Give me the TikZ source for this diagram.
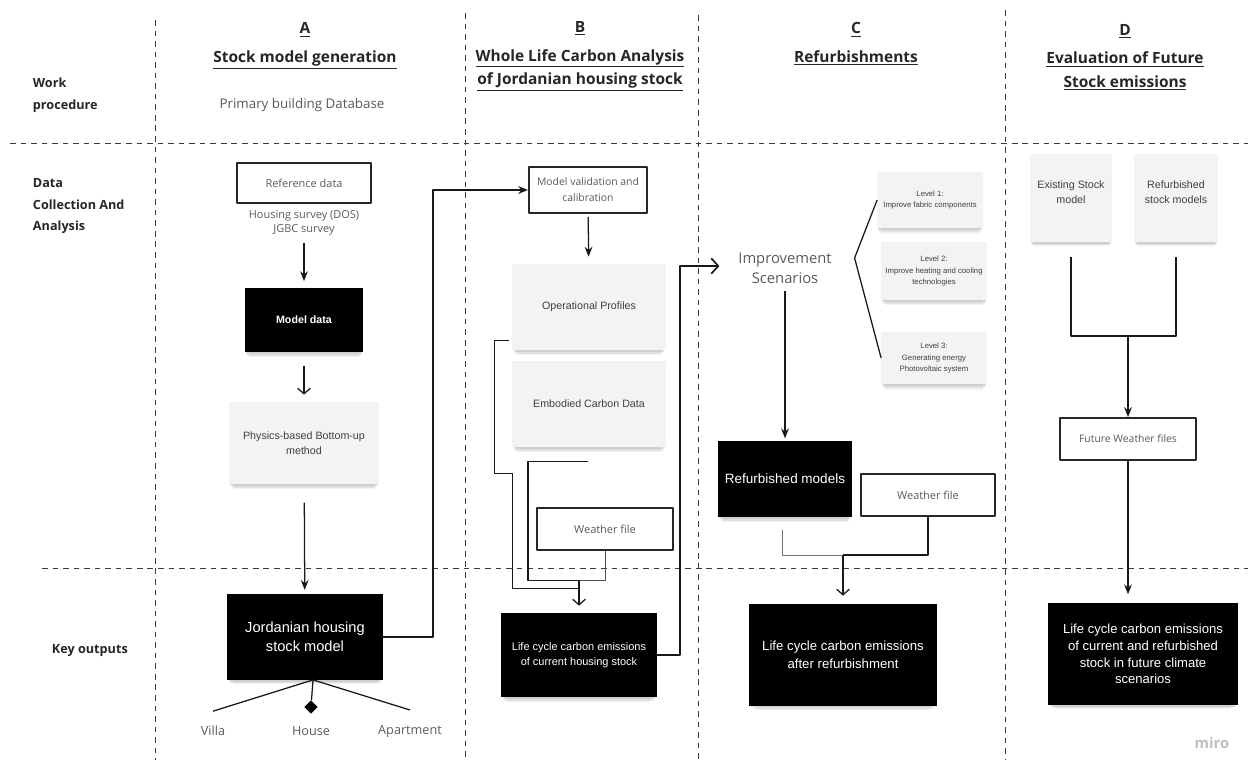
\documentclass[tikz,border=0pt]{standalone}
\usepackage{fontspec}
\setmainfont{Open Sans}
\newfontfamily\arialfont{Liberation Sans}
\usetikzlibrary{arrows.meta,shadows,shapes.geometric,calc,positioning}
\definecolor{stickyfill}{HTML}{F3F3F3}
\definecolor{inktext}{HTML}{5A5A5A}
\definecolor{gridline}{HTML}{3A3A3A}
\newcommand\fsz[2]{\fontsize{#1}{#2}\selectfont}

\begin{document}
\begin{tikzpicture}[x=0.025cm,y=-0.025cm,line join=round,
  gridl/.style={gridline,line width=0.7pt,dash pattern=on 4pt off 3.5pt},
  head/.style={font=\fsz{11}{16.5}\bfseries,text=black!85,align=center},
  rowlab/.style={font=\fsz{9}{15.5}\bfseries,text=black!85,align=left,anchor=west},
  plain/.style={font=\fsz{9.5}{13},text=inktext,align=center},
  softshadow/.style={
    drop shadow={shadow xshift=0pt,shadow yshift=-2pt,shadow scale=0.98,opacity=0.2},
    drop shadow={shadow xshift=0pt,shadow yshift=-4pt,shadow scale=0.96,opacity=0.15},
    drop shadow={shadow xshift=0pt,shadow yshift=-6pt,shadow scale=0.93,opacity=0.1}},
  whitebox/.style={draw=black!85,line width=1.4pt,fill=white,text=inktext,
    font=\fsz{7.8}{11.5},align=center,inner sep=1pt},
  blackbox/.style={fill=black,text=white,font=\arialfont,align=center,inner sep=1pt,softshadow},
  sticky/.style={fill=stickyfill,text=black!75,font=\arialfont\fsz{7.6}{10.5},align=center,inner sep=1pt,softshadow},
  link/.style={line width=0.9pt,black!90},
  fillarrow/.style={link,-{Stealth[length=7pt,width=5.5pt]}},
  openarrow/.style={link,-{Straight Barb[length=4pt,width=9pt]}}]
\useasboundingbox (0,0) rectangle (1248,764);

% grid of the work plan
\foreach \x/\top in {155/20,465/13,698/15,1005/10}{\draw[gridl] (\x,\top) -- (\x,760);}
\draw[gridl] (10,143) -- (1248,143);
\draw[gridl] (42,568) -- (1248,568);

% row labels
\node[rowlab] (rowwork) at (28,95) {Work\\procedure};
\node[rowlab] (rowdata) at (28,206) {Data\\Collection And\\Analysis};
\node[rowlab] (rowkey) at (47,650) {Key outputs};

% column heads
\node[head] (headA) at (305,46) {\underline{A}\\[4pt]\underline{Stock model generation}};
\node[head] (headB) at (580,56) {\underline{B}\\[4pt]\underline{Whole Life Carbon Analysis}\\\underline{of Jordanian housing stock}};
\node[head] (headC) at (856,44) {\underline{C}\\[4pt]\underline{Refurbishments}};
\node[head] (headD) at (1125,57) {\underline{D}\\[4pt]\underline{Evaluation of Future}\\\underline{Stock emissions}};
\node[plain] (primdb) at (302,105) {Primary building Database};

% column A
\node[whitebox,minimum width=3.35cm,minimum height=0.98cm] (refdata) at (304,183) {Reference data};
\node[plain,font=\fsz{7.8}{10.5},below=1pt of refdata] (survey) {Housing survey (DOS)\\JGBC survey};
\node[blackbox,font=\arialfont\fsz{7.6}{10}\bfseries,minimum width=2.95cm,minimum height=1.58cm] (mdata) at (304,320) {Model data};
\node[sticky,minimum width=3.75cm,minimum height=2.05cm] (physics) at (304,443) {Physics-based Bottom-up\\method};
\node[blackbox,font=\arialfont\fsz{10.4}{13.5},minimum width=3.88cm,minimum height=2.13cm] (jord) at (305,637) {Jordanian housing\\stock model};
\node[plain,font=\fsz{9}{12}] (villa) at (213,731) {Villa};
\node[plain,font=\fsz{9}{12}] (house) at (311,731) {House};
\node[plain,font=\fsz{9}{12}] (apart) at (410,731) {Apartment};
\node[diamond,fill=black,inner sep=0pt,minimum size=0.34cm] (hdiam) at (311,707) {};
\coordinate (fan) at ($(jord.south)+(8,0)$);

\draw[fillarrow,shorten <=2pt,shorten >=5pt] (survey) -- (mdata);
\draw[openarrow,shorten <=10pt,shorten >=5pt] (mdata) -- (physics);
\draw[fillarrow,shorten <=13pt,shorten >=3pt] (physics) -- (jord);
\draw[link] (fan) -- ($(villa.north)+(0,-10)$);
\draw[link] (fan) -- ($(apart.north)+(0,-10)$);
\draw[link] (fan) -- (hdiam);

% column B
\node[whitebox,font=\fsz{7.4}{11.5},minimum width=2.95cm,minimum height=1.15cm] (valid) at (588,190) {Model validation and\\calibration};
\node[sticky,minimum width=3.85cm,minimum height=2.15cm] (oper) at (589,307) {Operational Profiles};
\node[sticky,minimum width=3.85cm,minimum height=2.15cm] (embod) at (589,404) {Embodied Carbon Data};
\node[whitebox,minimum width=3.38cm,minimum height=1.03cm] (weaB) at (605,529) {Weather file};
\node[blackbox,font=\arialfont\fsz{7.8}{10.5},minimum width=3.88cm,minimum height=2.1cm] (lifeB) at (579,655) {Life cycle carbon emissions\\of current housing stock};
\coordinate (mB) at ($(lifeB.north)+(0,-24)$);
\coordinate (mB2) at ($(lifeB.north)+(0,-32)$);

\draw[fillarrow] (jord.east) -- ++(50,0) |- (valid.west);
\draw[fillarrow,shorten <=2pt,shorten >=5pt] (valid) -- (oper);
\draw[link] ($(oper.south west)+(-3,-10)$) -- ++(-14,0) -- ++(0,133) -- ++(18,0) |- (mB);
\draw[link] ($(embod.south)+(-1,14)$) -- ++(-60,0) |- (mB2);
\draw[link,black!70,line width=0.7pt] (weaB.south) |- (mB2);
\draw[openarrow,shorten >=5pt] (mB2) -- (lifeB.north);

% column C
\node[plain,font=\fsz{10.5}{14.5}] (impr) at (785,268) {Improvement\\Scenarios};
\node[sticky,font=\arialfont\fsz{5.5}{8},minimum width=2.63cm,minimum height=1.38cm] (lev1) at (930,200) {Level 1:\\Improve fabric components};
\node[sticky,font=\arialfont\fsz{5.5}{8},minimum width=2.63cm,minimum height=1.43cm] (lev2) at (934,271) {Level 2:\\Improve heating and cooling\\technologies};
\node[sticky,font=\arialfont\fsz{5.5}{8},minimum width=2.63cm,minimum height=1.3cm] (lev3) at (934,358) {Level 3:\\Generating energy\\Photovoltaic system};
\node[blackbox,font=\arialfont\fsz{9.6}{12},minimum width=3.35cm,minimum height=1.88cm] (refm) at (785,479) {Refurbished models};
\node[whitebox,minimum width=3.35cm,minimum height=1.03cm] (weaC) at (928,495) {Weather file};
\node[blackbox,font=\arialfont\fsz{9.4}{12.5},minimum width=4.68cm,minimum height=2.53cm] (lifeC) at (843,655) {Life cycle carbon emissions\\after refurbishment};
\coordinate (mC) at ($(lifeC.north)+(0,-49)$);

\draw[openarrow,line width=1.2pt,-{Straight Barb[length=5pt,width=11pt]}] (lifeB.east) -- ++(23,0) |- ($(impr.west)+(-14,-2)$);
\draw[link] (lev1.west) -- ($(impr.east)+(18,-10)$) -- (lev3.west);
\draw[fillarrow,shorten <=2pt,shorten >=2pt] (impr) -- (refm);
\draw[link,black!55,line width=0.7pt] ($(refm.south)+(-3,13)$) |- (mC);
\draw[link] (weaC.south) |- (mC);
\draw[openarrow,shorten >=6pt] (mC) -- (lifeC.north);

% column D
\node[sticky,minimum width=2.05cm,minimum height=2.18cm,text depth=0.3cm] (exist) at (1071,198) {Existing Stock\\model};
\node[sticky,minimum width=2.1cm,minimum height=2.18cm,text depth=0.3cm] (refs) at (1176,198) {Refurbished\\stock models};
\node[whitebox,font=\fsz{7.4}{10},minimum width=3.38cm,minimum height=1.05cm] (futw) at (1128,439) {Future Weather files};
\node[blackbox,font=\arialfont\fsz{9.3}{12},minimum width=4.75cm,minimum height=2.55cm] (lifeD) at (1143,654) {Life cycle carbon emissions\\of current and refurbished\\stock in future climate\\scenarios};
\coordinate (mD) at ($(futw.north)+(0,-81)$);

\draw[link] ($(exist.south)+(0,15)$) |- (mD) -| ($(refs.south)+(0,15)$);
\draw[fillarrow] (mD) -- (futw.north);
\draw[fillarrow,shorten >=6pt] (futw.south) -- (futw.south |- lifeD.north);

\node[font=\fsz{10.5}{12}\bfseries,text=black!25] (miro) at (1212,743) {miro};
\end{tikzpicture}
\end{document}
